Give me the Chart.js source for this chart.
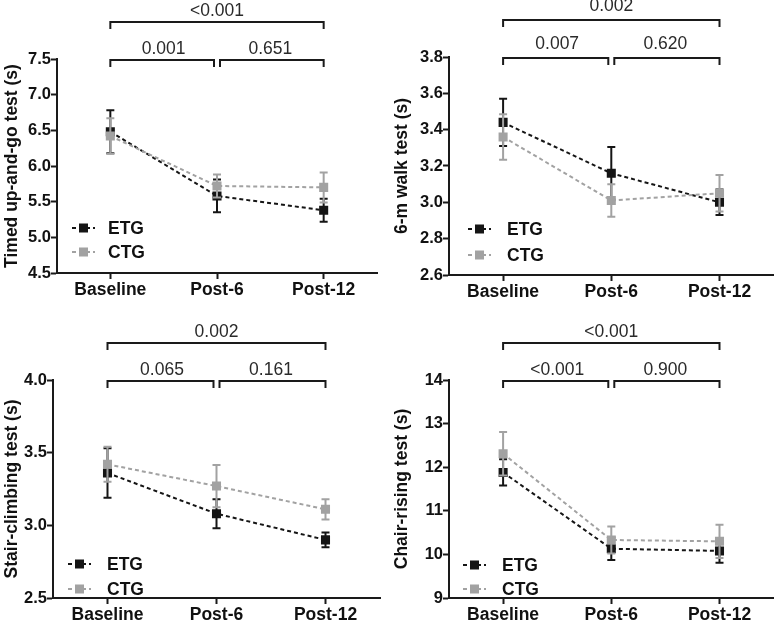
<!DOCTYPE html>
<html>
<head>
<meta charset="utf-8">
<script src="https://cdn.jsdelivr.net/npm/chart.js@4.4.0/dist/chart.umd.min.js"></script>
<style>
  html, body { margin: 0; padding: 0; background: #fff; }
  #wrap { position: relative; width: 780px; height: 622px; background: #fff; }
  canvas { position: absolute; }
</style>
</head>
<body>
<div id="wrap">
  <canvas id="c1" width="390" height="311" style="left:0;top:0"></canvas>
  <canvas id="c2" width="390" height="311" style="left:390px;top:0"></canvas>
  <canvas id="c3" width="390" height="311" style="left:0;top:311px"></canvas>
  <canvas id="c4" width="390" height="311" style="left:390px;top:311px"></canvas>
</div>
<script>
// ---------- DATA ----------
const categories = ['Baseline', 'Post-6', 'Post-12'];
const seriesNames = ['ETG', 'CTG'];

// Timed up-and-go test (s)
const tugEtg = [6.48, 5.58, 5.38];
const tugEtgErr = [0.30, 0.23, 0.16];
const tugCtg = [6.42, 5.72, 5.70];
const tugCtgErr = [0.25, 0.16, 0.21];
const tugP = ['0.001', '0.651', '<0.001'];
const tugTicks = [4.5, 7.5, 0.5];

// 6-m walk test (s)
const walkEtg = [3.44, 3.16, 3.00];
const walkEtgErr = [0.13, 0.145, 0.07];
const walkCtg = [3.36, 3.01, 3.05];
const walkCtgErr = [0.125, 0.09, 0.10];
const walkP = ['0.007', '0.620', '0.002'];
const walkTicks = [2.6, 3.8, 0.2];

// Stair-climbing test (s)
const stairEtg = [3.36, 3.08, 2.90];
const stairEtgErr = [0.17, 0.10, 0.05];
const stairCtg = [3.42, 3.27, 3.11];
const stairCtgErr = [0.12, 0.145, 0.07];
const stairP = ['0.065', '0.161', '0.002'];
const stairTicks = [2.5, 4.0, 0.5];

// Chair-rising test (s)
const chairEtg = [11.88, 10.13, 10.08];
const chairEtgErr = [0.30, 0.26, 0.27];
const chairCtg = [12.31, 10.33, 10.30];
const chairCtgErr = [0.50, 0.31, 0.38];
const chairP = ['<0.001', '0.900', '<0.001'];
const chairTicks = [9, 14, 1];

// ---------- STYLE ----------
const ETG_COLOR = '#151515';
const CTG_COLOR = '#a2a2a2';
const AXIS_COLOR = '#1a1a1a';
const FONT = "'Liberation Sans', Arial, Helvetica, sans-serif";

const errorBarPlugin = {
  id: 'errorBars',
  afterDatasetDraw(chart, args) {
    const ds = chart.data.datasets[args.index];
    if (!ds.errors) return;
    const y = chart.scales.y;
    const ctx = chart.ctx;
    ctx.save();
    ctx.strokeStyle = ds.borderColor;
    ctx.lineWidth = 2;
    args.meta.data.forEach((pt, i) => {
      const v = ds.data[i], e = ds.errors[i];
      const yt = y.getPixelForValue(v + e);
      const yb = y.getPixelForValue(v - e);
      ctx.beginPath();
      ctx.moveTo(pt.x, yt); ctx.lineTo(pt.x, yb);
      ctx.moveTo(pt.x - 4, yt); ctx.lineTo(pt.x + 4, yt);
      ctx.moveTo(pt.x - 4, yb); ctx.lineTo(pt.x + 4, yb);
      ctx.stroke();
    });
    ctx.restore();
  }
};

const bracketPlugin = {
  id: 'brackets',
  afterDraw(chart, args, opts) {
    const x = chart.scales.x;
    const top = chart.chartArea.top;
    const ctx = chart.ctx;
    const p = opts.pvalues;
    const x0 = x.getPixelForValue(0), x1 = x.getPixelForValue(1), x2 = x.getPixelForValue(2);
    const inner = top + 1, outer = top - 37;
    const h = 7;
    ctx.save();
    ctx.strokeStyle = '#1a1a1a';
    ctx.lineWidth = 2;
    const br = (a, b, yy) => {
      ctx.beginPath();
      ctx.moveTo(a, yy + h); ctx.lineTo(a, yy); ctx.lineTo(b, yy); ctx.lineTo(b, yy + h);
      ctx.stroke();
    };
    br(x0, x1 - 3, inner);
    br(x1 + 3, x2, inner);
    br(x0, x2, outer);
    ctx.fillStyle = '#2a2a2a';
    ctx.font = '17.5px ' + FONT;
    ctx.textAlign = 'center';
    ctx.textBaseline = 'alphabetic';
    ctx.fillText(p[0], (x0 + x1) / 2, inner - 6 + opts.textShift);
    ctx.fillText(p[1], (x1 + x2) / 2, inner - 6 + opts.textShift);
    ctx.fillText(p[2], (x0 + x2) / 2, outer - 6 + opts.textShift);
    ctx.restore();
  }
};

const legendPlugin = {
  id: 'customLegend',
  afterDraw(chart, args, opts) {
    const ctx = chart.ctx;
    const ca = chart.chartArea;
    const items = [
      { name: seriesNames[0], color: ETG_COLOR, dy: opts.dy1 },
      { name: seriesNames[1], color: CTG_COLOR, dy: opts.dy2 }
    ];
    ctx.save();
    items.forEach(it => {
      const yy = ca.bottom + it.dy;
      const xs = ca.left + opts.dx;
      ctx.strokeStyle = it.color;
      ctx.lineWidth = 2;
      ctx.setLineDash([4, 3]);
      ctx.beginPath();
      ctx.moveTo(xs, yy); ctx.lineTo(xs + 23, yy);
      ctx.stroke();
      ctx.setLineDash([]);
      ctx.fillStyle = it.color;
      ctx.fillRect(xs + 11.5 - 4.5, yy - 4.5, 9, 9);
      ctx.fillStyle = '#111';
      ctx.font = 'bold 17.5px ' + FONT;
      ctx.textAlign = 'left';
      ctx.textBaseline = 'middle';
      ctx.fillText(it.name, ca.left + opts.tx, yy + 1);
    });
    ctx.restore();
  }
};

function makeChart(id, title, etg, etgErr, ctg, ctgErr, pvals, ticks, geo, leg, decimals) {
  const [ymin, ymax, step] = ticks;
  return new Chart(document.getElementById(id), {
    type: 'line',
    data: {
      labels: categories,
      datasets: [
        {
          label: seriesNames[0], data: etg, errors: etgErr,
          borderColor: ETG_COLOR, backgroundColor: ETG_COLOR,
          borderWidth: 2, borderDash: [4, 3],
          pointStyle: 'rect', pointRadius: 6.4, pointBorderWidth: 0,
          order: 1
        },
        {
          label: seriesNames[1], data: ctg, errors: ctgErr,
          borderColor: CTG_COLOR, backgroundColor: CTG_COLOR,
          borderWidth: 2, borderDash: [4, 3],
          pointStyle: 'rect', pointRadius: 6.4, pointBorderWidth: 0,
          order: 0
        }
      ]
    },
    options: {
      responsive: false,
      animation: false,
      devicePixelRatio: 1,
      layout: { padding: { top: geo.top, right: 390 - geo.right, left: 0, bottom: 0 } },
      plugins: {
        legend: { display: false },
        tooltip: { enabled: false },
        brackets: { pvalues: pvals, textShift: geo.textShift || 0 },
        customLegend: leg
      },
      scales: {
        x: {
          type: 'category',
          offset: true,
          afterFit(s) { s.height = 311 - geo.bottom; },
          grid: { offset: false, drawOnChartArea: false, drawTicks: true, tickLength: 6, tickWidth: 2, tickColor: AXIS_COLOR },
          border: { display: true, color: AXIS_COLOR, width: 2 },
          ticks: { color: '#111', font: { family: FONT, size: 17.5, weight: 'bold' }, padding: 1, maxRotation: 0 }
        },
        y: {
          min: ymin, max: ymax,
          afterFit(s) { s.width = geo.left; },
          afterBuildTicks(s) {
            const t = [];
            for (let v = ymin; v <= ymax + 1e-9; v += step) t.push({ value: +v.toFixed(4) });
            s.ticks = t;
          },
          grid: { drawOnChartArea: false, drawTicks: true, tickLength: 6, tickWidth: 2, tickColor: AXIS_COLOR },
          border: { display: true, color: AXIS_COLOR, width: 2 },
          ticks: {
            color: '#111', font: { family: FONT, size: 16.5, weight: 'bold' }, padding: 0,
            callback: (v) => Number(v).toFixed(decimals)
          },
          title: { display: true, text: title, color: '#111', font: { family: FONT, size: 17.5, weight: 'bold' }, padding: { top: 2, bottom: 0 } }
        }
      }
    },
    plugins: [errorBarPlugin, bracketPlugin, legendPlugin]
  });
}

makeChart('c1', 'Timed up-and-go test (s)', tugEtg, tugEtgErr, tugCtg, tugCtgErr, tugP, tugTicks,
  { left: 57, right: 377, top: 59, bottom: 273 }, { dx: 15, tx: 51, dy1: -45, dy2: -21 }, 1);
makeChart('c2', '6-m walk test (s)', walkEtg, walkEtgErr, walkCtg, walkCtgErr, walkP, walkTicks,
  { left: 59, right: 388, top: 57, bottom: 275, textShift: -3 }, { dx: 19, tx: 58, dy1: -46, dy2: -20 }, 1);
makeChart('c3', 'Stair-climbing test (s)', stairEtg, stairEtgErr, stairCtg, stairCtgErr, stairP, stairTicks,
  { left: 53, right: 380, top: 69, bottom: 287 }, { dx: 15, tx: 54, dy1: -34, dy2: -9 }, 1);
makeChart('c4', 'Chair-rising test (s)', chairEtg, chairEtgErr, chairCtg, chairCtgErr, chairP, chairTicks,
  { left: 59, right: 387, top: 69, bottom: 287 }, { dx: 14, tx: 53, dy1: -33, dy2: -9 }, 0);
</script>
</body>
</html>
